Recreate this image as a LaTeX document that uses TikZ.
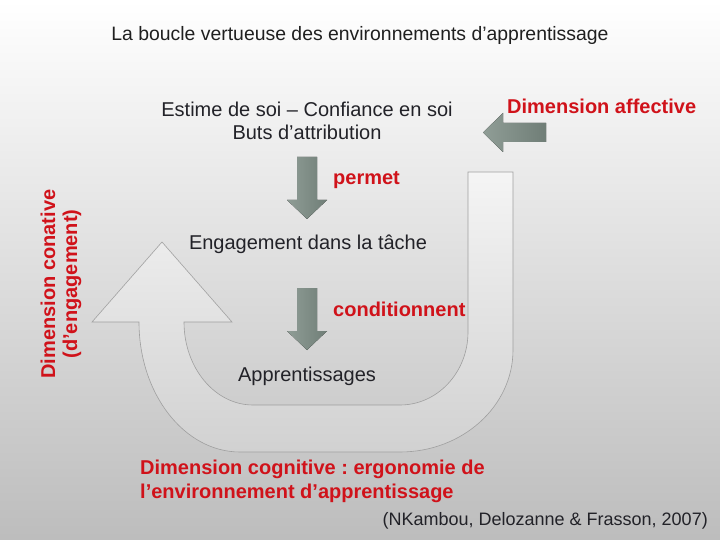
\documentclass[tikz,border=0pt]{standalone}
\usepackage{fontspec}
\setmainfont{Liberation Sans}
\usepackage{tikz}
\frenchspacing

\definecolor{loopred}{RGB}{208,18,26}
\definecolor{txtdark}{RGB}{34,34,40}
\definecolor{arrowgreen}{RGB}{124,140,132}

\tikzset{
  txt/.style={font=\fontsize{20}{23}\selectfont, text=txtdark, inner sep=0pt},
  redtxt/.style={font=\fontsize{20}{24}\selectfont\bfseries, text=loopred, inner sep=0pt},
  blockarrow/.style={draw=none, left color=arrowgreen!85!white, right color=arrowgreen!90!black},
  looparrow/.style={draw=gray!75, line width=0.6pt, top color=gray!8, bottom color=gray!36}
}

\begin{document}
\begin{tikzpicture}[x=1pt,y=-1pt]
\shade[top color=white, bottom color=gray!52] (0,0) rectangle (720,540);
\useasboundingbox (0,0) rectangle (720,540);

\draw[looparrow] (468,172) -- (513,172) -- (513,350)
  arc[start angle=0, end angle=90, x radius=113, y radius=102] -- (240,452)
  arc[start angle=90, end angle=180, x radius=101, y radius=130] -- (92,322)
  -- (162,242) -- (232,322) -- (184,322)
  arc[start angle=180, end angle=90, x radius=69, y radius=83] -- (400,405)
  arc[start angle=90, end angle=0, x radius=68, y radius=73] -- cycle;

\node[txt, font=\fontsize{19.4}{22}\selectfont, text=black!88] (title) at (360,35) {La boucle vertueuse des environnements d’apprentissage};

\node[txt, align=center] (estime) at (307,121) {Estime de soi – Confiance en soi\\Buts d’attribution};
\node[redtxt, anchor=west] (affective) at (507,106) {Dimension affective};
\node[redtxt, anchor=west] (permet) at (333,180) {permet};
\node[txt] (engagement) at (308,244) {Engagement dans la tâche};
\node[redtxt, anchor=west] (conditionnent) at (333,309) {conditionnent};
\node[txt] (apprent) at (307,376) {Apprentissages};
\node[redtxt, rotate=90, align=center, font=\fontsize{20}{22}\selectfont\bfseries] (conative) at (61,284) {Dimension conative\\(d’engagement)};
\node[redtxt, anchor=west, align=left] (cognitive) at (140,481) {Dimension cognitive : ergonomie de\\l’environnement d’apprentissage};
\node[txt, font=\fontsize{18}{21}\selectfont, anchor=east] (source) at (708,521) {(NKambou, Delozanne \& Frasson, 2007)};

\fill[blockarrow] (546,123) -- (503,123) -- (503,113) -- (483,132.5) -- (503,152) -- (503,142) -- (546,142) -- cycle;
\fill[blockarrow] (297,157) -- (317,157) -- (317,200) -- (327,200) -- (307,219) -- (287,200) -- (297,200) -- cycle;
\fill[blockarrow] (297,288) -- (317,288) -- (317,331) -- (327,331) -- (307,350) -- (287,331) -- (297,331) -- cycle;
\end{tikzpicture}
\end{document}
